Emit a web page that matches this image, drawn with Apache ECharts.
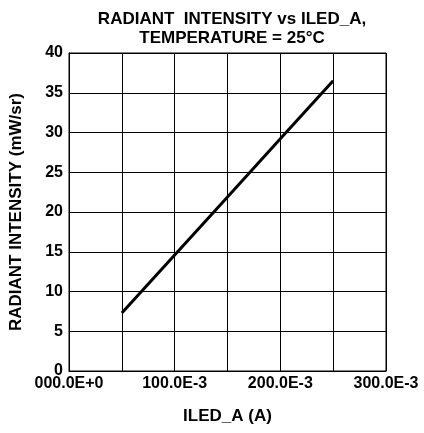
<!DOCTYPE html>
<html lang="en">
<head>
	<meta charset="UTF-8">
	<title>Radiant Intensity vs ILED_A</title>
	<script src="https://cdn.jsdelivr.net/npm/echarts@6/dist/echarts.min.js"></script>
	<style>
		html, body { margin: 0; padding: 0; background: #fff; }
		#main { width: 424px; height: 433px; }
	</style>
</head>
<body>
<div id="main"></div>
<script>
// current (A) and radiant intensity (mW/sr)
var iledA = [0.05, 0.10, 0.15, 0.20, 0.25];
var intensity = [7.3, 14.6, 21.9, 29.2, 36.5];
var xTickLabels = {
	'0': '000.0E+0',
	'0.1': '100.0E-3',
	'0.2': '200.0E-3',
	'0.3': '300.0E-3'
};

var font = 'Liberation Sans, Arial, sans-serif';
var chart = echarts.init(document.getElementById('main'));
var option = {
	animation: false,
	title: {
		text: 'RADIANT  INTENSITY vs ILED_A,\nTEMPERATURE = 25°C',
		left: 227,
		top: 5,
		textAlign: 'center',
		textStyle: {
			fontFamily: font, fontSize: 17, fontWeight: 'bold', color: '#000', lineHeight: 19
		}
	},
	grid: { left: 69, right: 38, top: 53, bottom: 62, containLabel: false, outerBoundsMode: 'none' },
	xAxis: {
		type: 'value',
		min: 0, max: 0.3, interval: 0.05,
		name: 'ILED_A (A)',
		nameLocation: 'middle',
		nameGap: 37,
		nameTextStyle: { fontFamily: font, fontSize: 17, fontWeight: 'bold', color: '#000' },
		axisLine: { show: true, lineStyle: { color: '#000', width: 1 } },
		axisTick: { show: false },
		axisLabel: {
			fontFamily: font, fontSize: 16, fontWeight: 'bold', color: '#000', margin: 5,
			formatter: function (v) {
				var k = String(Math.round(v * 100) / 100);
				return xTickLabels[k] || '';
			}
		},
		splitLine: { show: true, lineStyle: { color: '#000', width: 1 } }
	},
	yAxis: {
		type: 'value',
		min: 0, max: 40, interval: 5,
		name: 'RADIANT INTENSITY (mW/sr)',
		nameLocation: 'middle',
		nameGap: 44,
		nameTextStyle: { fontFamily: font, fontSize: 17, fontWeight: 'bold', color: '#000' },
		axisLine: { show: true, lineStyle: { color: '#000', width: 1 } },
		axisTick: { show: false },
		axisLabel: { fontFamily: font, fontSize: 16, fontWeight: 'bold', color: '#000', margin: 6 },
		splitLine: { show: true, lineStyle: { color: '#000', width: 1 } }
	},
	series: [{
		type: 'line',
		data: iledA.map(function (x, i) { return [x, intensity[i]]; }),
		showSymbol: false,
		lineStyle: { color: '#000', width: 3 }
	}]
};
chart.setOption(option);
// right border of the plot
chart.setOption({
	graphic: [{
		type: 'rect',
		shape: { x: 69, y: 53, width: 317, height: 318 },
		style: { fill: 'none', stroke: '#000', lineWidth: 1 },
		silent: true
	}]
});
</script>
</body>
</html>
